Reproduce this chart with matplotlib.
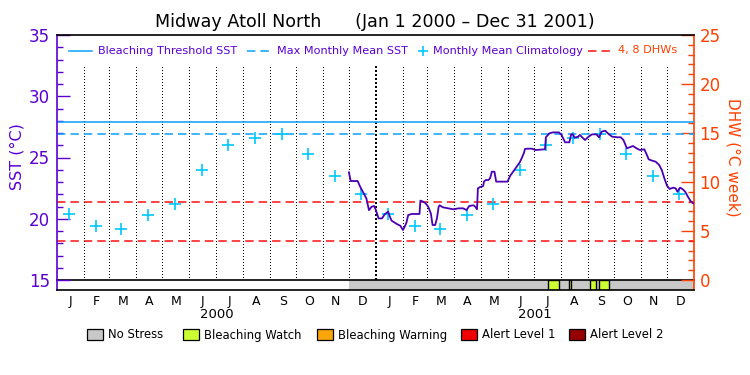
import numpy as np
import matplotlib
matplotlib.use("Agg")
import matplotlib.pyplot as plt
from matplotlib.transforms import Affine2D
from matplotlib.patches import Rectangle
from matplotlib.lines import Line2D

# ---------------- data ----------------
title = "Midway Atoll North      (Jan 1 2000 \u2013 Dec 31 2001)"
month_letters = ['J', 'F', 'M', 'A', 'M', 'J', 'J', 'A', 'S', 'O', 'N', 'D']
years = ['2000', '2001']

# monthly mean climatology (degC), Jan..Dec
clim = [20.4, 19.4, 19.2, 20.3, 21.2, 24.0, 26.0, 26.6, 26.9, 25.3, 23.5, 22.0]
mmm = 26.9
threshold = 27.9
dhw_levels = [4, 8]

# SST trace: days since 2000-01-01 and SST (degC)
sst_day = [335, 337, 345, 348, 351, 355, 358, 361, 364, 366, 369, 373, 376, 380, 382,
           384, 390, 394, 397, 399, 401, 403, 407, 416, 417, 420, 423, 426, 429, 431,
           434, 436, 438, 439, 443, 449, 455, 461, 466, 470, 473, 478, 480, 482, 483,
           485, 489, 490, 492, 495, 497, 499, 502, 504, 517, 520, 524, 528, 531, 533,
           536, 537, 539, 545, 549, 560, 561, 565, 569, 576, 579, 583, 588, 590, 592,
           594, 598, 600, 603, 606, 610, 614, 619, 622, 625, 629, 633, 637, 643, 647,
           650, 654, 657, 661, 665, 669, 674, 677, 679, 683, 687, 691, 694, 697, 700,
           703, 707, 710, 712, 715, 718, 721, 724, 727, 730]
sst_val = [23.79, 23.08, 23.08, 22.6, 22.2, 21.67, 20.7, 20.98, 21.04, 20.7, 20.03, 20.03,
           20.36, 20.58, 20.17, 19.84, 19.57, 19.43, 19.08, 19.35, 19.68, 20.3, 20.39, 20.39,
           21.48, 21.4, 21.26, 20.98, 20.44, 19.49, 19.49, 20.03, 20.98, 21.1, 20.93, 20.85,
           20.77, 20.85, 20.85, 20.71, 21.04, 21.1, 20.98, 20.77, 22.48, 22.57, 22.67, 23.03,
           23.16, 23.16, 23.3, 23.84, 23.84, 23.03, 23.03, 23.5, 23.9, 24.3, 24.6, 24.9,
           25.4, 25.69, 25.72, 25.72, 25.61, 25.67, 26.65, 26.97, 27.05, 27.05, 26.84, 26.24,
           26.24, 26.89, 26.89, 26.62, 26.7, 26.84, 26.62, 26.43, 26.7, 26.89, 26.89, 26.65,
           27.11, 27.19, 26.92, 26.7, 26.65, 26.65, 26.43, 25.75, 25.83, 25.94, 25.75, 25.61,
           25.67, 25.2, 24.85, 24.74, 24.66, 24.39, 23.98, 23.3, 22.7, 22.43, 22.54, 22.48,
           22.2, 22.54, 22.41, 22.2, 21.8, 21.45, 21.26]

# stress status (days since 2000-01-01)
nostress_start, nostress_end = 335, 731
watch_start = [563, 588, 612, 622]
watch_end = [576, 590, 619, 633]

legend_labels = ['No Stress', 'Bleaching Watch', 'Bleaching Warning', 'Alert Level 1', 'Alert Level 2']
legend_colors = ['#C8C8C8', '#CCFF33', '#FAA50A', '#F00000', '#960000']

# ---------------- styling ----------------
PURPLE = '#5A00D2'
LINEC = '#4B00B4'
ORANGE = '#FF4000'
BLUE = '#0AA0FF'
CYAN = '#00C8FF'
RED = '#FF1010'
FONT = 'DejaVu Sans'
plt.rcParams['font.family'] = FONT

W, H = 750, 375
fig = plt.figure(figsize=(W / 100, H / 100), dpi=100)
PX = Affine2D().scale(1, -1).translate(0, H).scale(1 / W, 1 / H) + fig.transFigure


def box(x0, y0, x1, y1):
    return [x0 / W, 1 - y1 / H, (x1 - x0) / W, (y1 - y0) / H]


L, R, T, B, BB = 57, 694, 35, 280, 290
ax = fig.add_axes(box(L, T, R, B))
axb = fig.add_axes(box(L, B, R, BB))
ax2 = ax.twinx()

month_starts = (np.arange('2000-01', '2002-02', dtype='datetime64[M]').astype('datetime64[D]')
                - np.datetime64('2000-01-01')).astype(int)
ndays = month_starts[-1]
mids = (month_starts[:-1] + month_starts[1:]) / 2.0

for a in (ax, axb):
    a.set_xlim(0, ndays)
ax.set_ylim(15, 35)
ax2.set_ylim(0, 25)
axb.set_ylim(0, 1)

# month dividers
top_frac = (B - 64) / (B - T)
for i, d in enumerate(month_starts[1:-1]):
    thick = (d == 366)
    ax.axvline(d, ymin=0, ymax=top_frac, color='black',
               lw=1.44 if thick else 0.72, ls=(0, (1, 1.4)) if thick else (0, (1, 2.3)),
               antialiased=False, zorder=1)

# reference lines
ax.axhline(threshold, color=BLUE, lw=1.1, zorder=2)
ax.axhline(mmm, color=BLUE, lw=1.1, ls=(0, (5.5, 3.3)), zorder=2)
for lv in dhw_levels:
    ax2.axhline(lv, color=RED, lw=1.1, ls=(0, (5.5, 3.3)), zorder=2)

# climatology
clim_x = month_starts[:-1] + 14
ax.plot(clim_x, clim * 2, ls='none', marker='+', ms=9, mew=1.2, color=CYAN, zorder=3)

# SST
ax.plot(sst_day, sst_val, color=LINEC, lw=1.3, zorder=4)

# axes styling
ax.set_zorder(ax2.get_zorder() + 1)
ax.patch.set_visible(False)
for a in (ax, ax2):
    a.spines['bottom'].set_visible(False)
ax.spines['right'].set_visible(False)
ax2.spines['left'].set_visible(False)
ax2.spines['top'].set_visible(False)
ax.spines['left'].set_color(PURPLE)
ax2.spines['right'].set_color(ORANGE)
ax.spines['top'].set_color('black')
for s in ax.spines.values():
    s.set_linewidth(1.2)
ax2.spines['right'].set_linewidth(1.2)

ax.set_xticks([])
ax.set_yticks(range(15, 36, 5))
ax.set_yticks(range(15, 36, 1), minor=True)
ax.tick_params(axis='y', which='major', direction='in', length=9.4, width=1.0,
               color=PURPLE, labelcolor=PURPLE, labelsize=12, pad=5)
ax.tick_params(axis='y', which='minor', direction='in', length=4.3, width=1.0, color=PURPLE)
ax2.set_yticks(range(0, 26, 5))
ax2.set_yticks(range(0, 26, 1), minor=True)
ax2.tick_params(axis='y', which='major', direction='in', length=9.4, width=1.0,
                color=ORANGE, labelcolor=ORANGE, labelsize=12, pad=4)
ax2.tick_params(axis='y', which='minor', direction='in', length=4.3, width=1.0, color=ORANGE)
ax2.set_xticks([])

# status bar
axb.add_patch(Rectangle((nostress_start, 0), nostress_end - nostress_start, 1,
                        facecolor=legend_colors[0], edgecolor='none'))
for s, e in zip(watch_start, watch_end):
    axb.add_patch(Rectangle((s, 0), e - s, 1, facecolor=legend_colors[1],
                            edgecolor='black', lw=1.0))
axb.set_yticks([])
axb.set_xticks(mids)
axb.set_xticklabels(month_letters * 2)
axb.tick_params(axis='x', length=0, pad=3.5, labelsize=9)
axb.spines['left'].set_color(PURPLE)
axb.spines['right'].set_color(ORANGE)
for s in axb.spines.values():
    s.set_linewidth(1.2)

# year labels
for yi, yl in enumerate(years):
    xc = L + (month_starts[12 * yi] + month_starts[12 * yi + 12]) / 2 / ndays * (R - L)
    fig.text(xc, 315, yl, transform=PX, ha='center', va='center', fontsize=9.5)

# title & axis labels
fig.text(375, 22, title, transform=PX, ha='center', va='center', fontsize=12.6)
fig.text(17, 157, 'SST (\u00b0C)', transform=PX, ha='center', va='center',
         rotation=90, fontsize=11.5, color=PURPLE)
fig.text(733, 157, 'DHW (\u00b0C week)', transform=PX, ha='center', va='center',
         rotation=-90, fontsize=11, color=ORANGE)

# top legend
ly = 50.5
fs = 8.1
fig.add_artist(Line2D([69, 92], [ly, ly], transform=PX, color=BLUE, lw=1.1))
fig.text(98, ly, 'Bleaching Threshold SST', transform=PX, va='center', fontsize=fs, color=PURPLE)
fig.add_artist(Line2D([247, 270], [ly, ly], transform=PX, color=BLUE, lw=1.1, ls=(0, (5.5, 3.3))))
fig.text(277, ly, 'Max Monthly Mean SST', transform=PX, va='center', fontsize=fs, color=PURPLE)
fig.add_artist(Line2D([423], [ly], transform=PX, color=CYAN, ls='none', marker='+', ms=7, mew=1.2))
fig.text(433, ly, 'Monthly Mean Climatology', transform=PX, va='center', fontsize=fs, color=PURPLE)
fig.add_artist(Line2D([588, 612], [ly, ly], transform=PX, color=RED, lw=1.1, ls=(0, (5.5, 3.3))))
fig.text(618, ly, '4, 8 DHWs', transform=PX, va='center', fontsize=fs, color=ORANGE)

# bottom legend
leg_x = [87, 183, 317, 461, 569]
for x0, lab, col in zip(leg_x, legend_labels, legend_colors):
    fig.add_artist(Rectangle((x0, 329), 16, 11, transform=PX, facecolor=col,
                             edgecolor='black', lw=0.9))
    fig.text(x0 + 21, 335, lab, transform=PX, va='center', fontsize=8.4)

fig.savefig('out.png', dpi=100)
